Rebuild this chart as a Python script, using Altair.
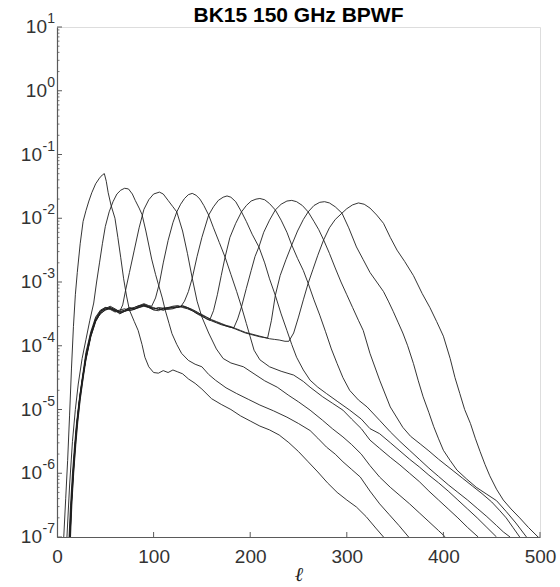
import altair as alt
import pandas as pd

# ---- data (multipole ell, log10 of window function) ----
C1_ELL = [6, 7, 9, 11, 13, 15, 17, 19, 21, 24, 27, 30, 33, 36, 40, 44, 47, 49, 51, 53, 56, 60, 63, 66, 69, 72, 75, 80, 84, 88, 91, 95, 100, 105, 110, 115, 120, 125, 130, 136, 143, 150, 160, 170, 180, 190, 200, 210, 220, 230, 240, 250, 260, 270, 280, 290, 300, 310, 320, 330, 338, 342]
C1_LOG = [-7.3, -7.0, -6.4, -5.8, -5.1, -4.35, -3.7, -3.2, -2.85, -2.4, -2.05, -1.88, -1.73, -1.6, -1.46, -1.37, -1.32, -1.30, -1.42, -1.6, -1.8, -2.0, -2.3, -2.62, -2.95, -3.22, -3.44, -3.62, -3.76, -3.98, -4.18, -4.33, -4.42, -4.43, -4.39, -4.42, -4.38, -4.41, -4.44, -4.52, -4.59, -4.68, -4.83, -4.92, -5.0, -5.1, -5.18, -5.26, -5.32, -5.4, -5.52, -5.66, -5.82, -5.98, -6.15, -6.3, -6.42, -6.53, -6.68, -6.86, -7.0, -7.1]

C2_ELL = [9, 10.3, 13, 16, 19, 22, 26, 30, 34, 38, 41, 44, 47, 50, 54, 58, 62, 66, 70, 74, 78, 81, 85, 88, 92, 95, 98, 102, 105, 109, 112, 116, 119, 124, 129, 136, 143, 150, 157, 164, 175, 186, 198, 210, 224, 238, 250, 262, 270, 279, 288, 296, 305, 314, 324, 334, 344, 354, 364, 368]
C2_LOG = [-7.3, -7.0, -6.2, -5.5, -5.0, -4.6, -4.2, -3.9, -3.6, -3.33, -3.0, -2.7, -2.4, -2.13, -1.9, -1.74, -1.62, -1.56, -1.53, -1.54, -1.62, -1.72, -1.84, -1.94, -2.2, -2.42, -2.64, -2.88, -3.04, -3.25, -3.44, -3.65, -3.81, -3.98, -4.12, -4.23, -4.29, -4.33, -4.45, -4.54, -4.66, -4.75, -4.84, -4.93, -5.02, -5.12, -5.22, -5.33, -5.45, -5.59, -5.7, -5.82, -5.94, -6.06, -6.28, -6.48, -6.65, -6.82, -7.0, -7.1]

C3_ELL = [11.5, 12.5, 14, 16, 18, 20, 23, 26, 30, 35, 40, 45, 50, 55, 60, 65, 68, 71, 75, 80, 85, 90, 95, 100, 106, 110, 115, 120, 124, 130, 135, 140, 145, 150, 157, 165, 172, 180, 193, 205, 215, 228, 240, 250, 262, 275, 285, 296, 305, 315, 324, 334, 345, 355, 365, 375, 385, 395, 402, 406]
C3_LOG = [-7.2, -7.0, -6.5, -6.0, -5.6, -5.25, -4.85, -4.52, -4.1, -3.78, -3.55, -3.44, -3.4, -3.43, -3.47, -3.46, -3.36, -3.13, -2.85, -2.5, -2.15, -1.86, -1.71, -1.62, -1.59, -1.62, -1.72, -1.82, -1.9, -2.2, -2.55, -2.94, -3.3, -3.55, -3.8, -4.05, -4.2, -4.27, -4.33, -4.45, -4.55, -4.65, -4.78, -4.88, -5.01, -5.17, -5.3, -5.43, -5.55, -5.7, -5.88, -6.06, -6.22, -6.35, -6.48, -6.62, -6.76, -6.9, -7.0, -7.1]

C4_ELL = [12, 13, 14, 16, 18, 20, 23, 26, 30, 35, 40, 45, 50, 55, 60, 65, 70, 75, 80, 85, 90, 95, 98, 102, 106, 110, 115, 120, 124, 128, 132, 136, 140, 144, 148, 152, 157, 162, 168, 174, 180, 186, 191, 196, 200, 204, 210, 220, 232, 245, 255, 262, 275, 285, 296, 305, 315, 324, 334, 345, 355, 365, 375, 385, 395, 405, 415, 425, 436, 440]
C4_LOG = [-7.25, -7.0, -6.7, -6.15, -5.7, -5.3, -4.88, -4.55, -4.15, -3.82, -3.6, -3.5, -3.44, -3.4, -3.44, -3.5, -3.46, -3.43, -3.4, -3.37, -3.34, -3.37, -3.38, -3.25, -3.02, -2.7, -2.35, -2.07, -1.9, -1.78, -1.69, -1.63, -1.61, -1.64, -1.7, -1.8, -1.95, -2.15, -2.38, -2.61, -2.88, -3.15, -3.39, -3.65, -3.86, -4.07, -4.22, -4.33, -4.4, -4.46, -4.56, -4.65, -4.8, -4.9, -5.01, -5.15, -5.3, -5.48, -5.61, -5.75, -5.87, -6.0, -6.13, -6.28, -6.42, -6.56, -6.7, -6.85, -7.0, -7.08]

C5_ELL = [12.5, 13.5, 15, 17, 19, 21, 24, 27, 30, 35, 40, 45, 50, 55, 60, 65, 70, 75, 80, 85, 90, 95, 100, 105, 110, 115, 120, 124, 128, 132, 136, 140, 145, 150, 157, 162, 167, 172, 176, 180, 185, 191, 196, 202, 209, 215, 220, 226, 232, 238, 243, 248, 255, 262, 270, 279, 290, 303, 315, 324, 334, 345, 355, 365, 375, 385, 395, 405, 415, 425, 435, 445, 455, 460]
C5_LOG = [-7.2, -7.0, -6.4, -5.9, -5.5, -5.15, -4.75, -4.45, -4.2, -3.85, -3.62, -3.48, -3.42, -3.38, -3.42, -3.47, -3.44, -3.4, -3.42, -3.4, -3.38, -3.4, -3.44, -3.45, -3.41, -3.43, -3.42, -3.4, -3.39, -3.3, -3.15, -2.94, -2.6, -2.3, -1.95, -1.82, -1.72, -1.67, -1.65, -1.67, -1.74, -1.9, -2.05, -2.25, -2.45, -2.7, -2.95, -3.21, -3.5, -3.76, -3.98, -4.18, -4.38, -4.54, -4.65, -4.75, -4.87, -5.01, -5.15, -5.3, -5.38, -5.52, -5.65, -5.78, -5.9, -6.03, -6.15, -6.28, -6.42, -6.56, -6.7, -6.85, -7.0, -7.08]

C6_ELL = [12, 13, 14.5, 16.5, 18.5, 20.5, 23, 26, 30, 35, 40, 45, 50, 55, 60, 65, 70, 75, 80, 85, 90, 95, 100, 105, 110, 115, 120, 125, 130, 135, 140, 145, 150, 154, 158, 162, 166, 170, 174, 179, 185, 191, 196, 201, 206, 210, 215, 220, 226, 232, 238, 243, 249, 255, 260, 266, 272, 278, 284, 290, 296, 303, 312, 321, 334, 345, 355, 365, 375, 385, 395, 405, 415, 425, 435, 445, 455, 462, 469, 473]
C6_LOG = [-7.3, -7.0, -6.55, -6.05, -5.62, -5.25, -4.9, -4.56, -4.18, -3.84, -3.6, -3.46, -3.4, -3.41, -3.46, -3.44, -3.42, -3.45, -3.43, -3.38, -3.37, -3.4, -3.43, -3.4, -3.41, -3.4, -3.38, -3.37, -3.4, -3.42, -3.45, -3.5, -3.54, -3.57, -3.6, -3.45, -3.2, -2.9, -2.61, -2.3, -2.08, -1.9, -1.8, -1.73, -1.7, -1.69, -1.71, -1.77, -1.87, -2.03, -2.22, -2.42, -2.63, -2.82, -3.02, -3.28, -3.52, -3.78, -4.05, -4.28, -4.5, -4.7, -4.85, -4.96, -5.17, -5.35, -5.5, -5.64, -5.78, -5.92, -6.05, -6.18, -6.3, -6.42, -6.55, -6.68, -6.82, -6.92, -7.0, -7.08]

C7_ELL = [12.5, 13.5, 15, 17, 19, 21, 24, 27, 30, 35, 40, 45, 50, 55, 60, 65, 70, 75, 80, 85, 90, 95, 100, 105, 110, 115, 120, 125, 130, 135, 140, 145, 150, 155, 160, 165, 170, 175, 179, 183, 187, 191, 196, 201, 205, 209, 214, 220, 226, 232, 238, 243, 248, 254, 260, 266, 271, 276, 282, 288, 294, 300, 306, 312, 317, 324, 334, 345, 358, 366, 376, 385, 395, 410, 420, 430, 440, 450, 458, 465, 472, 479, 483]
C7_LOG = [-7.2, -7.0, -6.45, -5.95, -5.52, -5.18, -4.78, -4.47, -4.2, -3.83, -3.57, -3.45, -3.43, -3.4, -3.43, -3.46, -3.45, -3.41, -3.42, -3.39, -3.35, -3.38, -3.4, -3.43, -3.42, -3.4, -3.41, -3.38, -3.39, -3.41, -3.45, -3.49, -3.53, -3.58, -3.61, -3.64, -3.67, -3.69, -3.71, -3.72, -3.58, -3.39, -3.1, -2.82, -2.6, -2.45, -2.22, -2.03, -1.87, -1.78, -1.73, -1.72, -1.74, -1.8, -1.9, -2.05, -2.18, -2.34, -2.55, -2.78, -3.0, -3.2, -3.4, -3.6, -3.76, -4.12, -4.54, -4.96, -5.28, -5.42, -5.54, -5.65, -5.78, -5.96, -6.08, -6.2, -6.32, -6.45, -6.58, -6.7, -6.85, -7.0, -7.08]

C8_ELL = [12, 13.5, 15, 17, 19, 21, 24, 27, 30, 35, 40, 45, 50, 55, 60, 65, 70, 75, 80, 85, 90, 95, 100, 105, 110, 115, 120, 125, 130, 135, 140, 145, 150, 155, 160, 165, 170, 175, 180, 185, 190, 195, 200, 205, 210, 214, 218, 222, 226, 231, 237, 243, 249, 255, 260, 266, 272, 277, 282, 288, 295, 302, 310, 317, 324, 331, 338, 343, 348, 353, 358, 363, 369, 374, 379, 385, 390, 395, 400, 407, 414, 424, 434, 445, 455, 465, 475, 486, 490]
C8_LOG = [-7.3, -7.0, -6.5, -6.0, -5.58, -5.22, -4.82, -4.5, -4.14, -3.8, -3.59, -3.47, -3.41, -3.42, -3.44, -3.48, -3.46, -3.42, -3.4, -3.37, -3.36, -3.39, -3.42, -3.41, -3.44, -3.42, -3.39, -3.4, -3.38, -3.4, -3.43, -3.47, -3.52, -3.56, -3.6, -3.63, -3.66, -3.69, -3.71, -3.74, -3.77, -3.8, -3.82, -3.84, -3.86, -3.87, -3.88, -3.6, -3.21, -2.9, -2.65, -2.42, -2.2, -2.02, -1.9, -1.8, -1.75, -1.74, -1.76, -1.82, -1.92, -2.15, -2.45, -2.65, -2.85, -3.0, -3.15, -3.3, -3.46, -3.63, -3.8, -4.0, -4.28, -4.55, -4.8, -5.05, -5.27, -5.46, -5.64, -5.8, -5.95, -6.09, -6.22, -6.33, -6.43, -6.6, -6.78, -7.0, -7.08]

C9_ELL = [13, 14, 15.5, 17.5, 19.5, 21.5, 24, 27, 30, 35, 40, 45, 50, 55, 60, 65, 70, 75, 80, 85, 90, 95, 100, 105, 110, 115, 120, 125, 130, 135, 140, 145, 150, 155, 160, 165, 170, 175, 180, 185, 190, 195, 200, 205, 210, 215, 220, 225, 230, 236, 240, 245, 250, 255, 260, 265, 270, 276, 282, 288, 295, 300, 306, 312, 318, 324, 331, 338, 345, 352, 360, 369, 378, 386, 393, 400, 407, 412, 417, 422, 428, 433, 438, 443, 448, 455, 462, 470, 479, 488, 498, 502]
C9_LOG = [-7.2, -7.0, -6.45, -5.95, -5.55, -5.2, -4.85, -4.52, -4.22, -3.86, -3.62, -3.49, -3.44, -3.42, -3.45, -3.49, -3.46, -3.44, -3.43, -3.4, -3.37, -3.39, -3.41, -3.43, -3.44, -3.41, -3.4, -3.39, -3.37, -3.4, -3.44, -3.48, -3.51, -3.55, -3.59, -3.62, -3.65, -3.68, -3.7, -3.73, -3.76, -3.79, -3.81, -3.83, -3.85, -3.87, -3.89, -3.9, -3.91, -3.93, -3.93, -3.8, -3.55, -3.28, -3.02, -2.8, -2.58, -2.34, -2.15, -2.02, -1.92, -1.85, -1.79, -1.76, -1.78, -1.84, -1.95, -2.08, -2.3, -2.5, -2.68, -2.9, -3.18, -3.4, -3.62, -3.85, -4.2, -4.5, -4.75, -5.0, -5.22, -5.45, -5.66, -5.86, -6.04, -6.25, -6.42, -6.56, -6.7, -6.85, -7.0, -7.05]

X_TICKS = [0, 100, 200, 300, 400, 500]
Y_EXPONENTS = [1, 0, -1, -2, -3, -4, -5, -6, -7]
TITLE = "BK15 150 GHz BPWF"
X_TITLE = "ℓ"

# ---- build tables ----
CURVES = [(C1_ELL, C1_LOG), (C2_ELL, C2_LOG), (C3_ELL, C3_LOG), (C4_ELL, C4_LOG),
          (C5_ELL, C5_LOG), (C6_ELL, C6_LOG), (C7_ELL, C7_LOG), (C8_ELL, C8_LOG),
          (C9_ELL, C9_LOG)]
rows = []
for i, (ells, logs) in enumerate(CURVES, start=1):
    for l, v in zip(ells, logs):
        rows.append({"curve": i, "ell": l, "bpwf": 10.0 ** v})
df = pd.DataFrame(rows)

lab_df = pd.DataFrame({
    "e": Y_EXPONENTS,
    "val": [10.0 ** e for e in Y_EXPONENTS],
    "base": ["10"] * len(Y_EXPONENTS),
    "exp": [str(e) for e in Y_EXPONENTS],
})
minor_vals = [m * 10.0 ** e for e in Y_EXPONENTS[1:] for m in range(2, 10)]
minor_df = pd.DataFrame({"val": minor_vals})
xt_df = pd.DataFrame({"t": X_TICKS[1:]})
title_df = pd.DataFrame({"label": [TITLE]})

W, H = 483, 510
AX = "#5a5a5a"
LAB = "#333333"
FONT = "Liberation Sans"

xscale = alt.Scale(domain=[0, 500], nice=False, zero=False)
yscale = alt.Scale(type="log", domain=[1e-7, 10], nice=False)

lines = alt.Chart(df).mark_line(clip=True, strokeWidth=0.9, color="#1e1e1e").encode(
    x=alt.X("ell:Q", scale=xscale,
            axis=alt.Axis(values=X_TICKS, ticks=False, tickSize=0, grid=False,
                          domainColor=AX, domainWidth=1.2, labelFont=FONT,
                          labelFontSize=19, labelColor=LAB, labelPadding=10,
                          labelFlush=False, title=X_TITLE, titleFont="DejaVu Serif",
                          titleFontStyle="italic", titleFontWeight="normal",
                          titleFontSize=20, titleColor="#222222", titlePadding=-2)),
    y=alt.Y("bpwf:Q", scale=yscale,
            axis=alt.Axis(labels=False, ticks=False, tickSize=0, grid=False, title=None,
                          domainColor=AX, domainWidth=1.2)),
    detail="curve:N",
)

xticks = alt.Chart(xt_df).mark_rule(color=AX, strokeWidth=1).encode(
    x=alt.X("t:Q", scale=xscale), y=alt.value(H), y2=alt.value(H - 5))

yticks = alt.Chart(lab_df).mark_rule(color=AX, strokeWidth=1).encode(
    y=alt.Y("val:Q", scale=yscale), x=alt.value(0), x2=alt.value(5))

yminor = alt.Chart(minor_df).mark_rule(color=AX, strokeWidth=0.8).encode(
    y=alt.Y("val:Q", scale=yscale), x=alt.value(0), x2=alt.value(2.5))

base_pos = alt.Chart(lab_df).transform_filter("datum.e >= 0").mark_text(
    align="right", baseline="middle", font=FONT, fontSize=19, color=LAB).encode(
    y=alt.Y("val:Q", scale=yscale), x=alt.value(-10), text="base:N")

base_neg = alt.Chart(lab_df).transform_filter("datum.e < 0").mark_text(
    align="right", baseline="middle", font=FONT, fontSize=19, color=LAB).encode(
    y=alt.Y("val:Q", scale=yscale), x=alt.value(-15), text="base:N")

exps = alt.Chart(lab_df).mark_text(
    align="right", baseline="middle", font=FONT, fontSize=14, color=LAB, dy=-8).encode(
    y=alt.Y("val:Q", scale=yscale), x=alt.value(-2), text="exp:N")

title_mark = alt.Chart(title_df).mark_text(
    align="center", baseline="alphabetic", font=FONT, fontSize=21, fontWeight="bold",
    color="#000000").encode(x=alt.value(W / 2), y=alt.value(-5), text="label:N")

chart = alt.layer(lines, xticks, yticks, yminor, base_pos, base_neg, exps, title_mark).properties(
    width=W, height=H,
    autosize=alt.AutoSizeParams(type="none"),
    padding={"left": 57, "top": 27, "right": 20, "bottom": 50},
).configure_view(stroke=None).configure(background="white")

chart.save("out.html", embed_options={"renderer": "svg", "actions": False})
